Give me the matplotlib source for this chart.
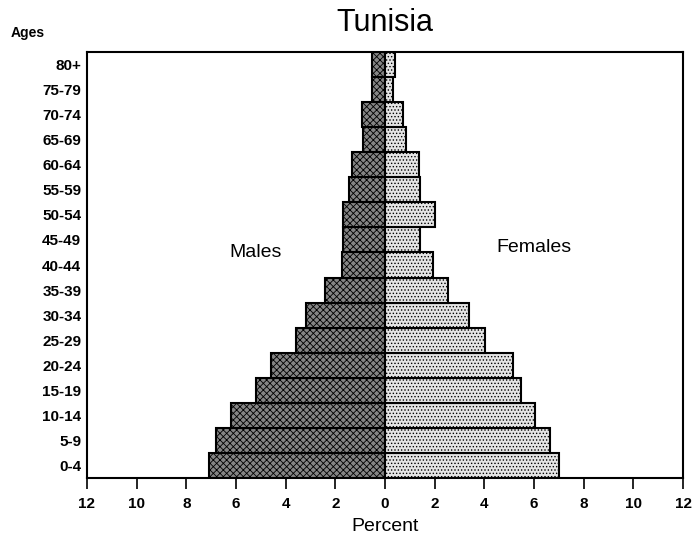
import matplotlib
matplotlib.use("Agg")
import matplotlib.pyplot as plt
import numpy as np

age_groups = ["0-4", "5-9", "10-14", "15-19", "20-24", "25-29", "30-34", "35-39",
              "40-44", "45-49", "50-54", "55-59", "60-64", "65-69", "70-74", "75-79", "80+"]
males = [7.08, 6.79, 6.18, 5.18, 4.59, 3.58, 3.2, 2.42, 1.75, 1.7, 1.7, 1.43, 1.32, 0.9, 0.93, 0.54, 0.54]
females = [6.99, 6.65, 6.05, 5.47, 5.16, 4.01, 3.39, 2.55, 1.92, 1.4, 2.0, 1.4, 1.38, 0.84, 0.73, 0.32, 0.39]
xticks = [-12, -10, -8, -6, -4, -2, 0, 2, 4, 6, 8, 10, 12]
xticklabels = ["12", "10", "8", "6", "4", "2", "0", "2", "4", "6", "8", "10", "12"]

plt.rcParams['font.family'] = ['Liberation Sans', 'DejaVu Sans']
plt.rcParams['hatch.linewidth'] = 0.6

fig = plt.figure(figsize=(6.95, 5.37), dpi=100)
ax = fig.add_axes([0.125, 0.11, 0.858, 0.793])

y = np.arange(len(age_groups))
ax.barh(y, [-m for m in males], height=1.0, color='#858585', edgecolor='black',
        linewidth=1.5, hatch='xxxxx')
ax.barh(y, females, height=1.0, color='#e4e4e4', edgecolor='black',
        linewidth=1.5, hatch='.....')

ax.set_xlim(-12, 12)
ax.set_ylim(-0.5, len(age_groups) - 0.5)
ax.set_xticks(xticks)
ax.set_xticklabels(xticklabels, fontsize=11, fontweight='bold')
ax.set_yticks(y)
ax.set_yticklabels(age_groups, fontsize=11, fontweight='bold')
ax.tick_params(axis='y', length=0, pad=4)
ax.tick_params(axis='x', direction='out', length=8, width=1.2, pad=6)
for s in ax.spines.values():
    s.set_linewidth(1.5)

ax.set_xlabel("Percent", fontsize=14, labelpad=5)
ax.set_title("Tunisia", fontsize=22, pad=15)
fig.text(0.015, 0.932, "Ages", fontsize=10, fontweight='bold')
ax.text(-5.2, 8.5, "Males", fontsize=14, ha='center', va='center')
ax.text(6.0, 8.7, "Females", fontsize=14, ha='center', va='center')

fig.savefig("out.png", dpi=100)
